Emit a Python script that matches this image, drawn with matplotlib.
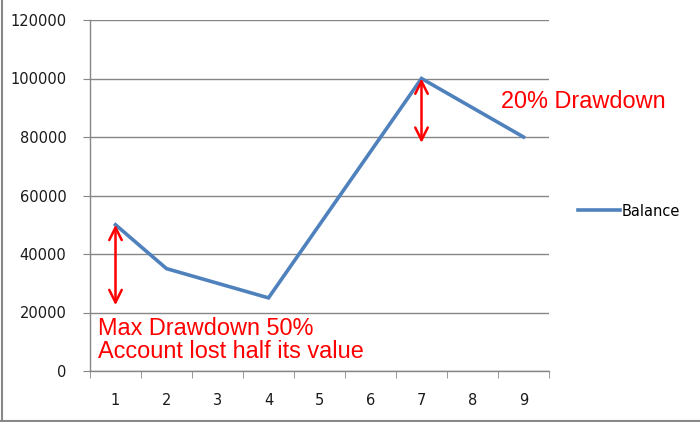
import matplotlib.pyplot as plt
from matplotlib.lines import Line2D

# Data
periods = [1, 2, 3, 4, 5, 6, 7, 8, 9]
balance = [50000, 35000, 30000, 25000, 50000, 75000, 100000, 90000, 80000]
y_ticks = [0, 20000, 40000, 60000, 80000, 100000, 120000]

# Drawdown annotations (x, y_top, y_bottom)
max_dd = (1, 50000, 22500)
small_dd = (7, 100000, 78000)
max_dd_text = "Max Drawdown 50%\nAccount lost half its value"
small_dd_text = "20% Drawdown"

LINE_COLOR = '#4F81BD'
GRID_COLOR = '#868686'

fig = plt.figure(figsize=(7, 4.22), dpi=100)
ax = fig.add_axes([90 / 700, 51 / 422, 459 / 700, 351 / 422])

ax.plot(periods, balance, color=LINE_COLOR, linewidth=2.6, label='Balance',
        solid_joinstyle='miter', zorder=3)

ax.set_xlim(0.5, 9.5)
ax.set_ylim(0, 120000)
ax.set_yticks(y_ticks)
ax.set_yticklabels([str(v) for v in y_ticks])
ax.set_xticks(periods)
ax.set_xticks([p + 0.5 for p in [0] + periods], minor=True)

ax.grid(axis='y', color=GRID_COLOR, linewidth=1)
ax.set_axisbelow(True)
for side in ['top', 'right']:
    ax.spines[side].set_visible(False)
for side in ['left', 'bottom']:
    ax.spines[side].set_color(GRID_COLOR)
    ax.spines[side].set_linewidth(1)

ax.tick_params(axis='y', direction='out', length=5, color=GRID_COLOR,
               labelsize=10.5, pad=12, labelcolor='#1a1a1a')
ax.tick_params(axis='x', which='major', length=0, labelsize=10.5, pad=16,
               labelcolor='#1a1a1a')
ax.tick_params(axis='x', which='minor', direction='out', length=5, color=GRID_COLOR)

# Drawdown arrows
arrow_props = dict(arrowstyle='<->,head_length=0.9,head_width=0.45',
                   color='red', lw=1.8, shrinkA=0, shrinkB=0)
ax.annotate('', xy=(max_dd[0], max_dd[1]), xytext=(max_dd[0], max_dd[2]),
            arrowprops=arrow_props, zorder=4)
ax.annotate('', xy=(small_dd[0], small_dd[1]), xytext=(small_dd[0], small_dd[2]),
            arrowprops=arrow_props, zorder=4)

ax.text(0.66, 10600, max_dd_text, color='red', fontsize=16.9,
        family='Liberation Sans', va='center', ha='left', linespacing=1.0)
ax.text(8.56, 92000, small_dd_text, color='red', fontsize=16.9,
        family='Liberation Sans', va='center', ha='left')

# Legend
handle = Line2D([0], [0], color=LINE_COLOR, linewidth=2.6)
fig.legend([handle], ['Balance'], loc='center left', bbox_to_anchor=(572 / 700, 1 - 211 / 422),
           frameon=False, fontsize=10.5, handlelength=2.9, handletextpad=0.1,
           borderaxespad=0)

# Chart area border (left and bottom visible)
fig.add_artist(Line2D([1.5 / 700, 1.5 / 700], [0, 1], color='#888888', lw=1.5,
                      transform=fig.transFigure))
fig.add_artist(Line2D([0, 1], [1.5 / 422, 1.5 / 422], color='#888888', lw=1.5,
                      transform=fig.transFigure))

fig.savefig('out.png', dpi=100)
plt.close(fig)
